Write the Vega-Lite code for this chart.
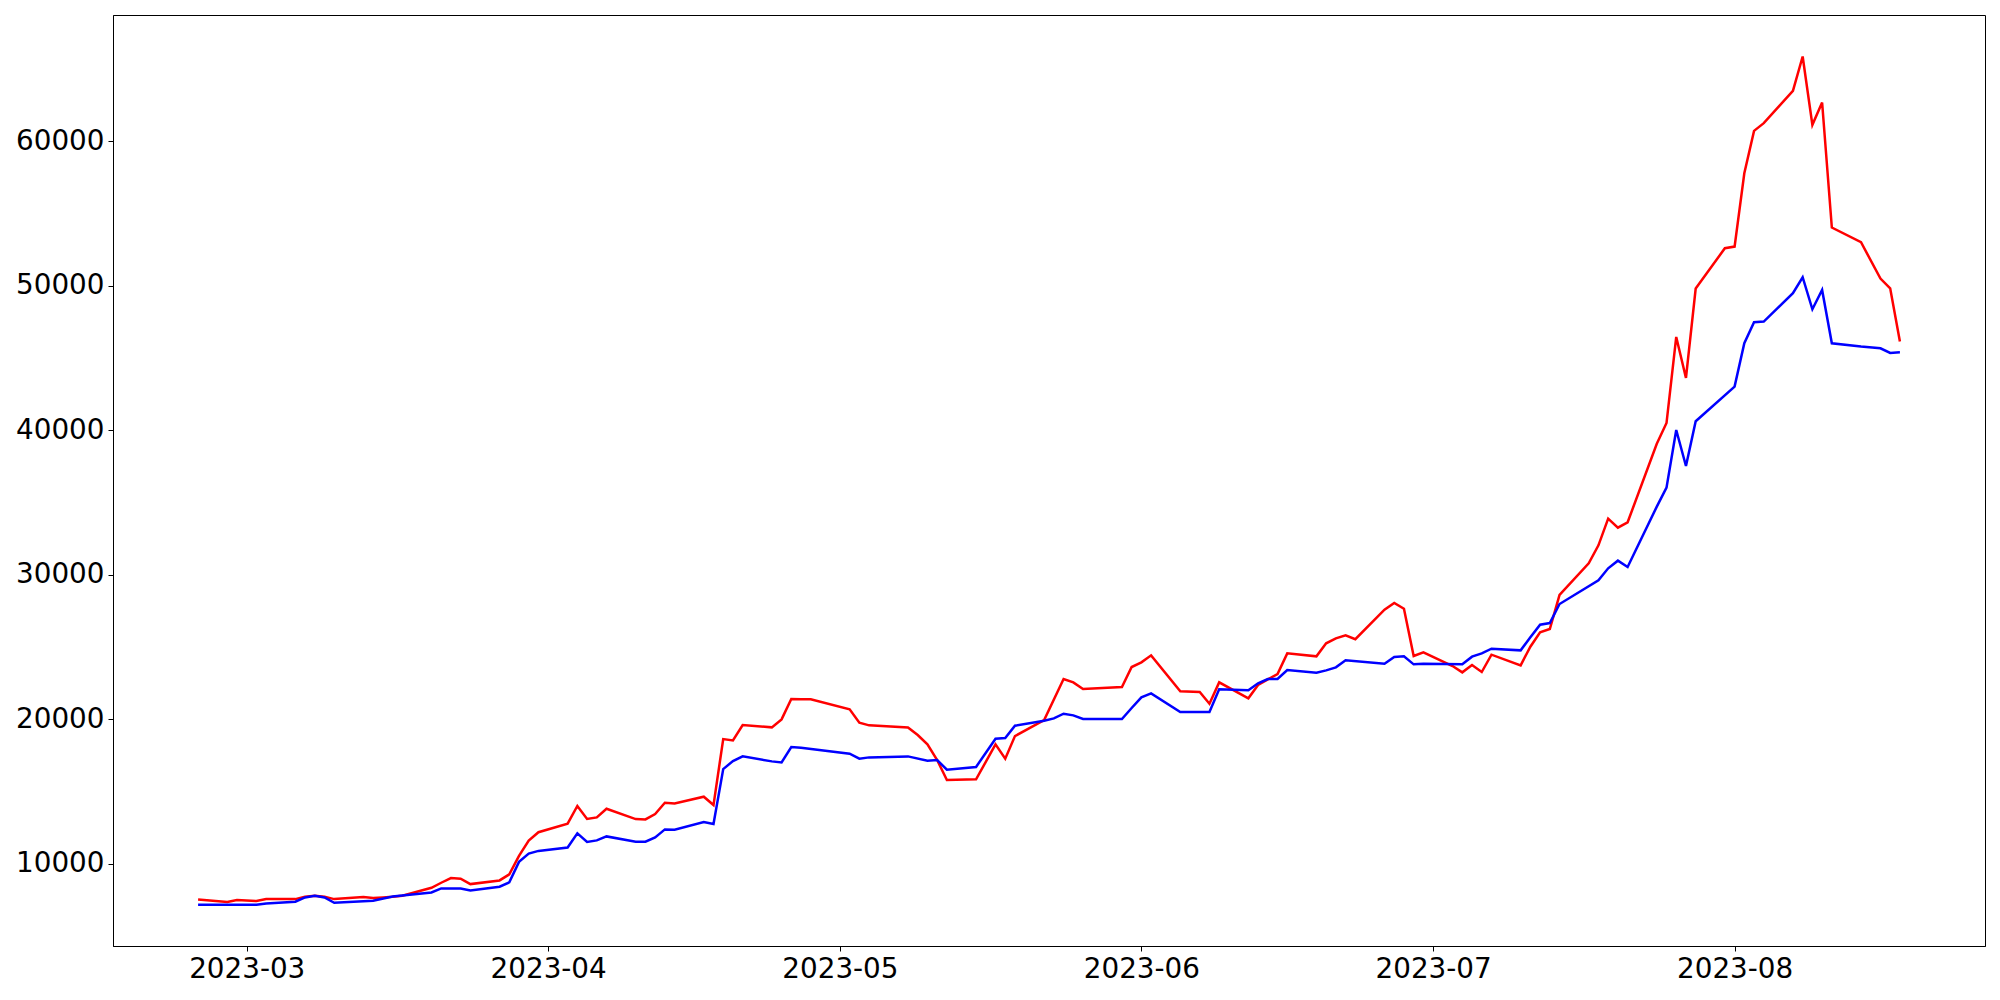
{
  "$schema": "https://vega.github.io/schema/vega-lite/v6.json",
  "width": 1872,
  "height": 931,
  "autosize": {"type": "none"},
  "padding": {"left": 113, "top": 15, "right": 15, "bottom": 54},
  "background": "white",
  "config": {
    "view": {"stroke": "black", "strokeWidth": 1},
    "axis": {
      "labelFont": "DejaVu Sans",
      "labelFontSize": 27.8,
      "labelColor": "black",
      "tickColor": "black",
      "domainColor": "black",
      "tickSize": 5,
      "tickWidth": 1,
      "labelPadding": 4,
      "grid": false,
      "title": null
    }
  },
  "datasets": {
    "red": [
      {"date": "2023-02-24", "v": 7520},
      {"date": "2023-02-27", "v": 7334},
      {"date": "2023-02-28", "v": 7472},
      {"date": "2023-03-02", "v": 7403},
      {"date": "2023-03-03", "v": 7541},
      {"date": "2023-03-06", "v": 7541},
      {"date": "2023-03-07", "v": 7703},
      {"date": "2023-03-08", "v": 7772},
      {"date": "2023-03-09", "v": 7703},
      {"date": "2023-03-10", "v": 7541},
      {"date": "2023-03-13", "v": 7680},
      {"date": "2023-03-14", "v": 7610},
      {"date": "2023-03-15", "v": 7657},
      {"date": "2023-03-16", "v": 7703},
      {"date": "2023-03-17", "v": 7772},
      {"date": "2023-03-20", "v": 8326},
      {"date": "2023-03-21", "v": 8673},
      {"date": "2023-03-22", "v": 8996},
      {"date": "2023-03-23", "v": 8950},
      {"date": "2023-03-24", "v": 8580},
      {"date": "2023-03-27", "v": 8834},
      {"date": "2023-03-28", "v": 9250},
      {"date": "2023-03-29", "v": 10530},
      {"date": "2023-03-30", "v": 11600},
      {"date": "2023-03-31", "v": 12170},
      {"date": "2023-04-03", "v": 12760},
      {"date": "2023-04-04", "v": 13990},
      {"date": "2023-04-05", "v": 13090},
      {"date": "2023-04-06", "v": 13197},
      {"date": "2023-04-07", "v": 13797},
      {"date": "2023-04-10", "v": 13082},
      {"date": "2023-04-11", "v": 13059},
      {"date": "2023-04-12", "v": 13428},
      {"date": "2023-04-13", "v": 14213},
      {"date": "2023-04-14", "v": 14167},
      {"date": "2023-04-17", "v": 14628},
      {"date": "2023-04-18", "v": 14051},
      {"date": "2023-04-19", "v": 18622},
      {"date": "2023-04-20", "v": 18530},
      {"date": "2023-04-21", "v": 19591},
      {"date": "2023-04-24", "v": 19430},
      {"date": "2023-04-25", "v": 19984},
      {"date": "2023-04-26", "v": 21392},
      {"date": "2023-04-27", "v": 21380},
      {"date": "2023-04-28", "v": 21369},
      {"date": "2023-05-02", "v": 20676},
      {"date": "2023-05-03", "v": 19753},
      {"date": "2023-05-04", "v": 19568},
      {"date": "2023-05-08", "v": 19420},
      {"date": "2023-05-09", "v": 18900},
      {"date": "2023-05-10", "v": 18253},
      {"date": "2023-05-11", "v": 17167},
      {"date": "2023-05-12", "v": 15782},
      {"date": "2023-05-15", "v": 15830},
      {"date": "2023-05-17", "v": 18253},
      {"date": "2023-05-18", "v": 17260},
      {"date": "2023-05-19", "v": 18829},
      {"date": "2023-05-22", "v": 19937},
      {"date": "2023-05-24", "v": 22777},
      {"date": "2023-05-25", "v": 22546},
      {"date": "2023-05-26", "v": 22084},
      {"date": "2023-05-30", "v": 22223},
      {"date": "2023-05-31", "v": 23608},
      {"date": "2023-06-01", "v": 23931},
      {"date": "2023-06-02", "v": 24416},
      {"date": "2023-06-05", "v": 21923},
      {"date": "2023-06-07", "v": 21877},
      {"date": "2023-06-08", "v": 21068},
      {"date": "2023-06-09", "v": 22546},
      {"date": "2023-06-12", "v": 21438},
      {"date": "2023-06-13", "v": 22361},
      {"date": "2023-06-14", "v": 22754},
      {"date": "2023-06-15", "v": 23123},
      {"date": "2023-06-16", "v": 24554},
      {"date": "2023-06-19", "v": 24346},
      {"date": "2023-06-20", "v": 25247},
      {"date": "2023-06-21", "v": 25593},
      {"date": "2023-06-22", "v": 25801},
      {"date": "2023-06-23", "v": 25535},
      {"date": "2023-06-26", "v": 27578},
      {"date": "2023-06-27", "v": 28040},
      {"date": "2023-06-28", "v": 27647},
      {"date": "2023-06-29", "v": 24369},
      {"date": "2023-06-30", "v": 24623},
      {"date": "2023-07-03", "v": 23677},
      {"date": "2023-07-04", "v": 23238},
      {"date": "2023-07-05", "v": 23746},
      {"date": "2023-07-06", "v": 23261},
      {"date": "2023-07-07", "v": 24462},
      {"date": "2023-07-10", "v": 23723},
      {"date": "2023-07-11", "v": 25016},
      {"date": "2023-07-12", "v": 26008},
      {"date": "2023-07-13", "v": 26239},
      {"date": "2023-07-14", "v": 28594},
      {"date": "2023-07-17", "v": 30787},
      {"date": "2023-07-18", "v": 32033},
      {"date": "2023-07-19", "v": 33880},
      {"date": "2023-07-20", "v": 33256},
      {"date": "2023-07-21", "v": 33626},
      {"date": "2023-07-24", "v": 39060},
      {"date": "2023-07-25", "v": 40500},
      {"date": "2023-07-26", "v": 46460},
      {"date": "2023-07-27", "v": 43620},
      {"date": "2023-07-28", "v": 49807},
      {"date": "2023-07-31", "v": 52600},
      {"date": "2023-08-01", "v": 52716},
      {"date": "2023-08-02", "v": 57794},
      {"date": "2023-08-03", "v": 60726},
      {"date": "2023-08-04", "v": 61257},
      {"date": "2023-08-07", "v": 63496},
      {"date": "2023-08-08", "v": 65873},
      {"date": "2023-08-09", "v": 61141},
      {"date": "2023-08-10", "v": 62688},
      {"date": "2023-08-11", "v": 54031},
      {"date": "2023-08-14", "v": 53016},
      {"date": "2023-08-16", "v": 50500},
      {"date": "2023-08-17", "v": 49830},
      {"date": "2023-08-18", "v": 46137}
    ],
    "blue": [
      {"date": "2023-02-24", "v": 7149},
      {"date": "2023-03-02", "v": 7149},
      {"date": "2023-03-03", "v": 7242},
      {"date": "2023-03-06", "v": 7357},
      {"date": "2023-03-07", "v": 7657},
      {"date": "2023-03-08", "v": 7772},
      {"date": "2023-03-09", "v": 7657},
      {"date": "2023-03-10", "v": 7288},
      {"date": "2023-03-14", "v": 7426},
      {"date": "2023-03-16", "v": 7726},
      {"date": "2023-03-20", "v": 8003},
      {"date": "2023-03-21", "v": 8280},
      {"date": "2023-03-23", "v": 8280},
      {"date": "2023-03-24", "v": 8142},
      {"date": "2023-03-27", "v": 8396},
      {"date": "2023-03-28", "v": 8700},
      {"date": "2023-03-29", "v": 10120},
      {"date": "2023-03-30", "v": 10690},
      {"date": "2023-03-31", "v": 10877},
      {"date": "2023-04-03", "v": 11108},
      {"date": "2023-04-04", "v": 12089},
      {"date": "2023-04-05", "v": 11500},
      {"date": "2023-04-06", "v": 11604},
      {"date": "2023-04-07", "v": 11881},
      {"date": "2023-04-10", "v": 11512},
      {"date": "2023-04-11", "v": 11512},
      {"date": "2023-04-12", "v": 11812},
      {"date": "2023-04-13", "v": 12366},
      {"date": "2023-04-14", "v": 12343},
      {"date": "2023-04-17", "v": 12874},
      {"date": "2023-04-18", "v": 12735},
      {"date": "2023-04-19", "v": 16544},
      {"date": "2023-04-20", "v": 17098},
      {"date": "2023-04-21", "v": 17421},
      {"date": "2023-04-24", "v": 17075},
      {"date": "2023-04-25", "v": 17006},
      {"date": "2023-04-26", "v": 18068},
      {"date": "2023-04-27", "v": 18021},
      {"date": "2023-05-02", "v": 17606},
      {"date": "2023-05-03", "v": 17260},
      {"date": "2023-05-04", "v": 17352},
      {"date": "2023-05-08", "v": 17421},
      {"date": "2023-05-10", "v": 17121},
      {"date": "2023-05-11", "v": 17167},
      {"date": "2023-05-12", "v": 16498},
      {"date": "2023-05-15", "v": 16690},
      {"date": "2023-05-17", "v": 18645},
      {"date": "2023-05-18", "v": 18691},
      {"date": "2023-05-19", "v": 19545},
      {"date": "2023-05-22", "v": 19891},
      {"date": "2023-05-23", "v": 20053},
      {"date": "2023-05-24", "v": 20376},
      {"date": "2023-05-25", "v": 20260},
      {"date": "2023-05-26", "v": 20007},
      {"date": "2023-05-30", "v": 20007},
      {"date": "2023-05-31", "v": 20768},
      {"date": "2023-06-01", "v": 21507},
      {"date": "2023-06-02", "v": 21784},
      {"date": "2023-06-05", "v": 20491},
      {"date": "2023-06-08", "v": 20491},
      {"date": "2023-06-09", "v": 22061},
      {"date": "2023-06-12", "v": 21992},
      {"date": "2023-06-13", "v": 22477},
      {"date": "2023-06-14", "v": 22777},
      {"date": "2023-06-15", "v": 22777},
      {"date": "2023-06-16", "v": 23400},
      {"date": "2023-06-19", "v": 23215},
      {"date": "2023-06-20", "v": 23377},
      {"date": "2023-06-21", "v": 23585},
      {"date": "2023-06-22", "v": 24069},
      {"date": "2023-06-26", "v": 23838},
      {"date": "2023-06-27", "v": 24300},
      {"date": "2023-06-28", "v": 24346},
      {"date": "2023-06-29", "v": 23793},
      {"date": "2023-06-30", "v": 23838},
      {"date": "2023-07-04", "v": 23793},
      {"date": "2023-07-05", "v": 24323},
      {"date": "2023-07-06", "v": 24554},
      {"date": "2023-07-07", "v": 24877},
      {"date": "2023-07-10", "v": 24762},
      {"date": "2023-07-11", "v": 25662},
      {"date": "2023-07-12", "v": 26539},
      {"date": "2023-07-13", "v": 26655},
      {"date": "2023-07-14", "v": 27970},
      {"date": "2023-07-18", "v": 29610},
      {"date": "2023-07-19", "v": 30441},
      {"date": "2023-07-20", "v": 30971},
      {"date": "2023-07-21", "v": 30533},
      {"date": "2023-07-24", "v": 34711},
      {"date": "2023-07-25", "v": 36026},
      {"date": "2023-07-26", "v": 40020},
      {"date": "2023-07-27", "v": 37527},
      {"date": "2023-07-28", "v": 40620},
      {"date": "2023-08-01", "v": 43021},
      {"date": "2023-08-02", "v": 46022},
      {"date": "2023-08-03", "v": 47476},
      {"date": "2023-08-04", "v": 47522},
      {"date": "2023-08-07", "v": 49484},
      {"date": "2023-08-08", "v": 50592},
      {"date": "2023-08-09", "v": 48376},
      {"date": "2023-08-10", "v": 49715},
      {"date": "2023-08-11", "v": 46022},
      {"date": "2023-08-14", "v": 45791},
      {"date": "2023-08-16", "v": 45676},
      {"date": "2023-08-17", "v": 45352},
      {"date": "2023-08-18", "v": 45398}
    ]
  },
  "encoding": {
    "x": {
      "field": "date",
      "type": "temporal",
      "scale": {
        "type": "utc",
        "domain": [
          {"year": 2023, "month": 2, "date": 15, "hours": 6, "utc": true},
          {"year": 2023, "month": 8, "date": 26, "hours": 18, "utc": true}
        ]
      },
      "axis": {
        "values": [
          {"year": 2023, "month": 3, "date": 1, "utc": true},
          {"year": 2023, "month": 4, "date": 1, "utc": true},
          {"year": 2023, "month": 5, "date": 1, "utc": true},
          {"year": 2023, "month": 6, "date": 1, "utc": true},
          {"year": 2023, "month": 7, "date": 1, "utc": true},
          {"year": 2023, "month": 8, "date": 1, "utc": true}
        ],
        "format": "%Y-%m",
        "labelFlush": false,
        "labelOverlap": false
      }
    },
    "y": {
      "field": "v",
      "type": "quantitative",
      "scale": {"domain": [4294, 68747], "nice": false, "zero": false},
      "axis": {
        "values": [10000, 20000, 30000, 40000, 50000, 60000],
        "format": "d",
        "labelFlush": false,
        "labelOverlap": false
      }
    }
  },
  "layer": [
    {
      "data": {"name": "red"},
      "mark": {"type": "line", "color": "#ff0000", "strokeWidth": 2.5}
    },
    {
      "data": {"name": "blue"},
      "mark": {"type": "line", "color": "#0000ff", "strokeWidth": 2.5}
    }
  ]
}
